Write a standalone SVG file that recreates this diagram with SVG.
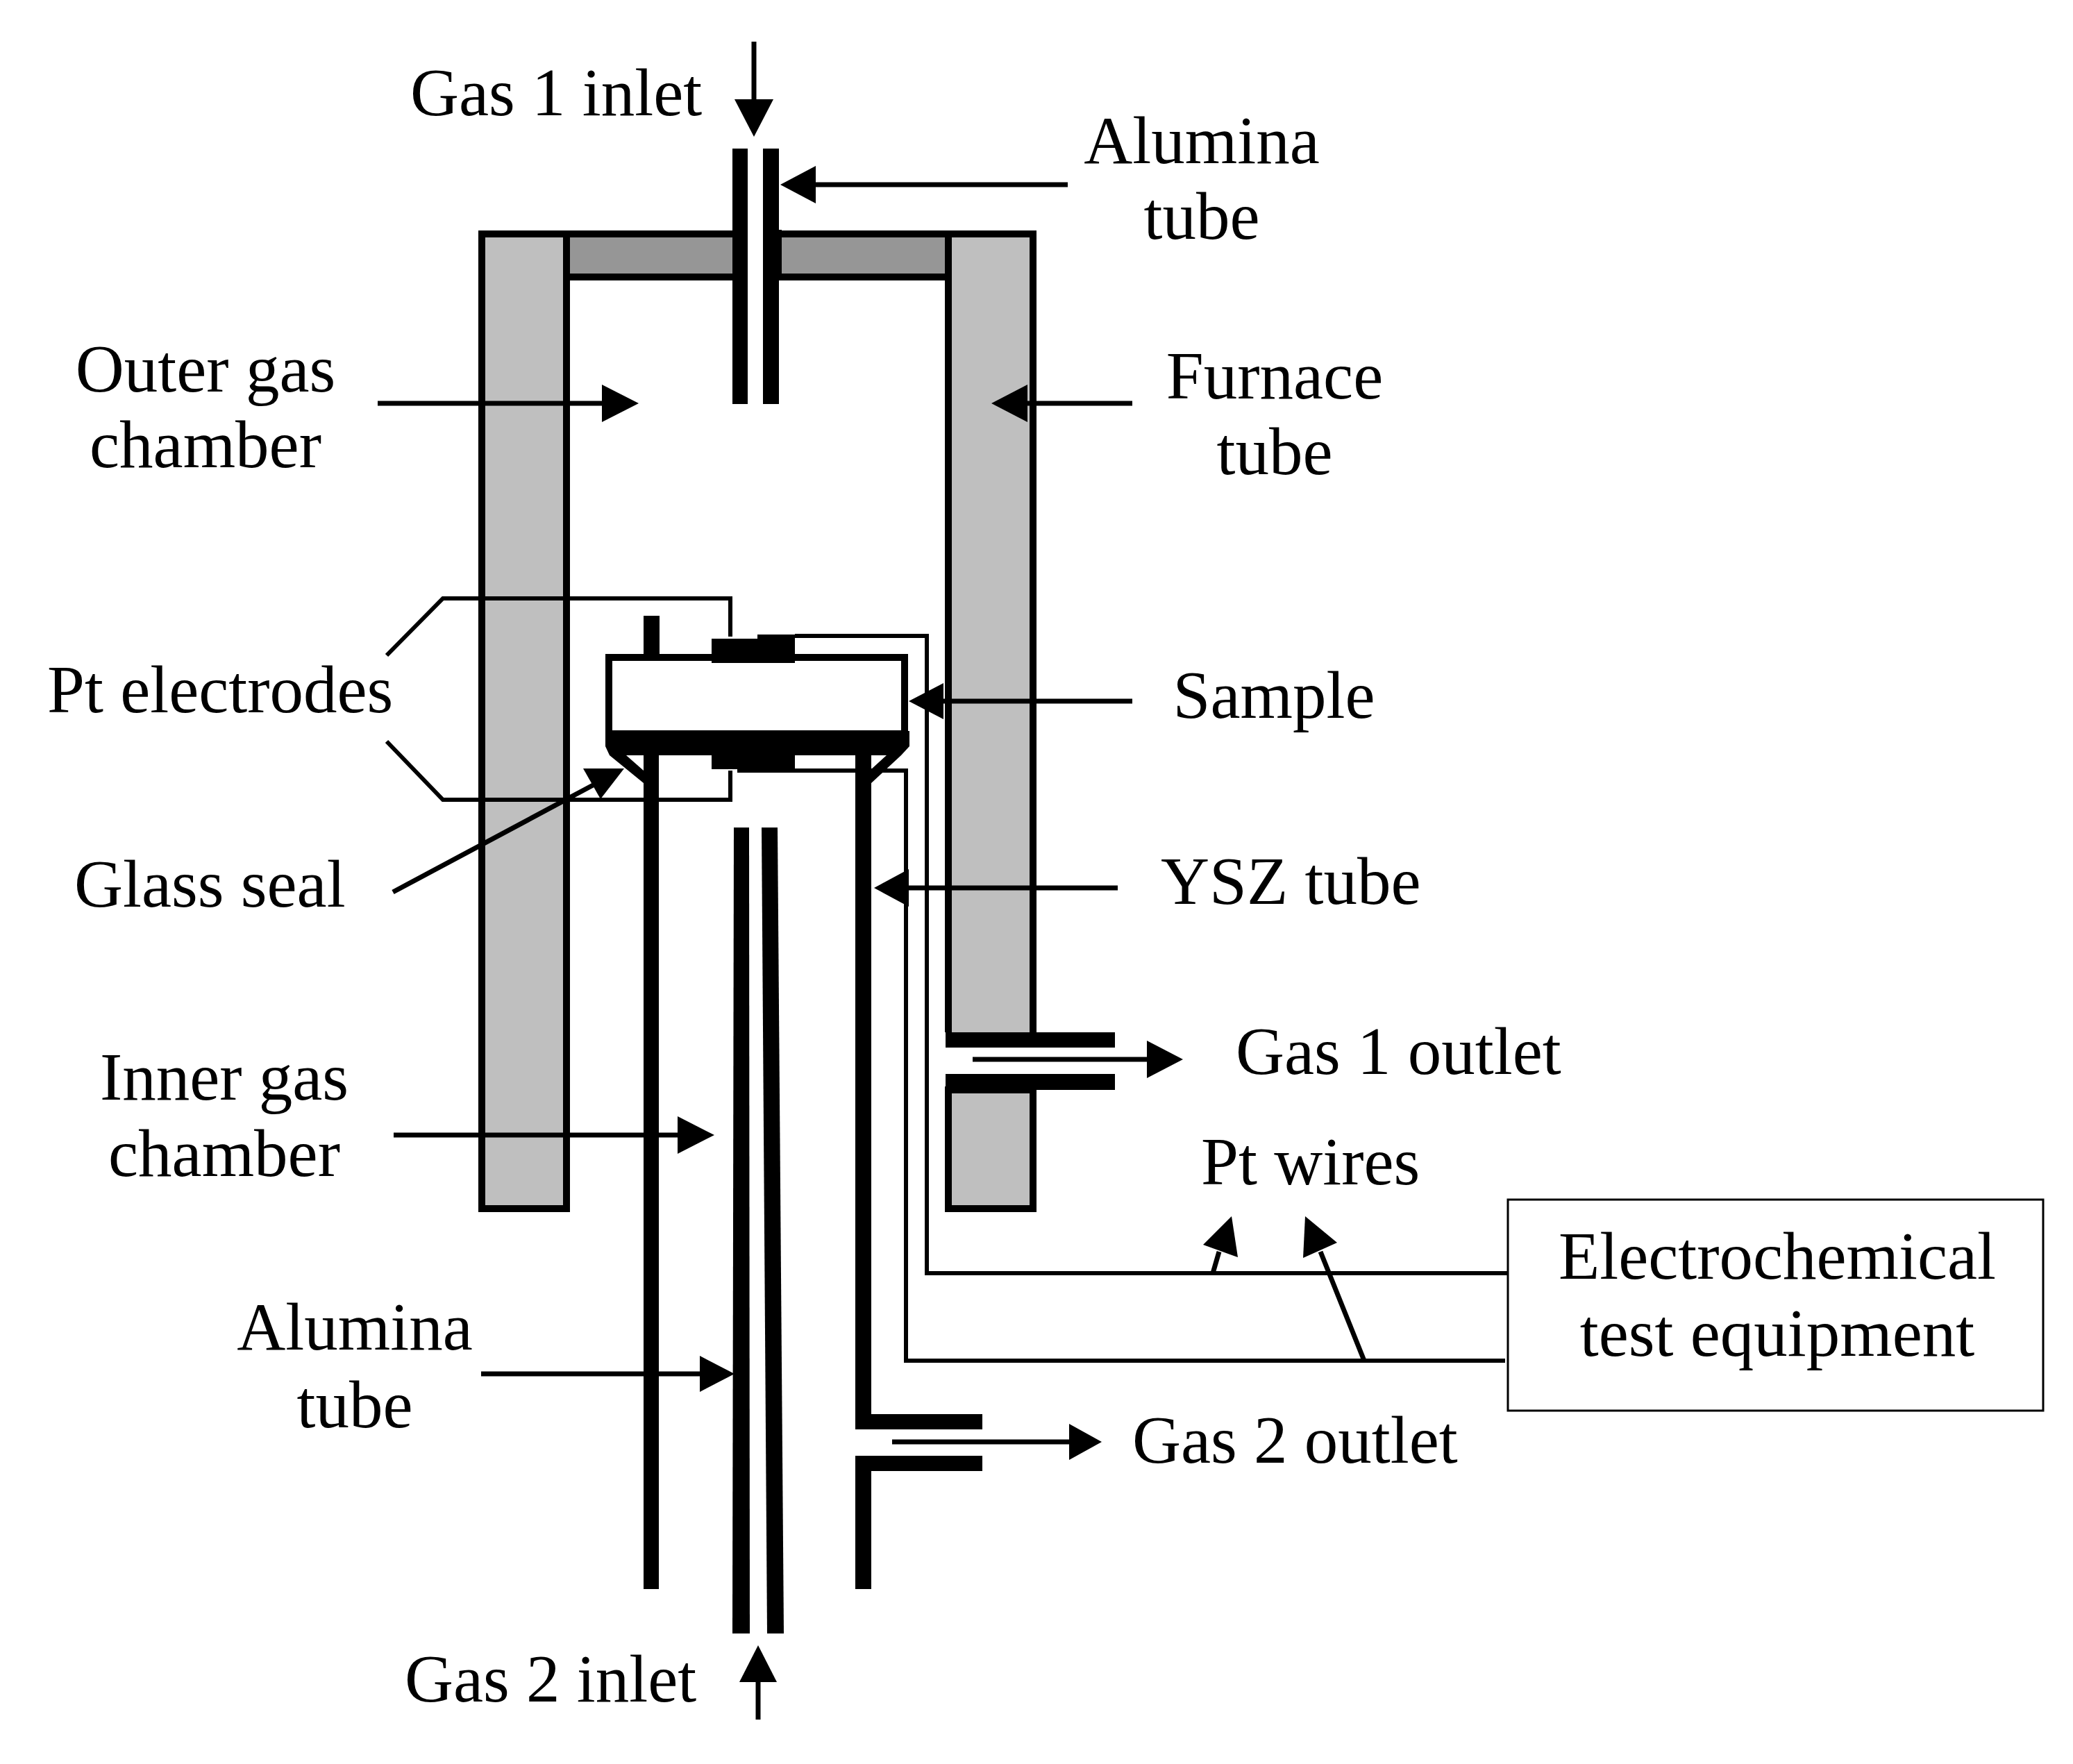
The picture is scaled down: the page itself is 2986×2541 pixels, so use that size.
<svg xmlns="http://www.w3.org/2000/svg" width="2986" height="2541" viewBox="0 0 2986 2541">
<style>
text{font-family:"Liberation Serif","Times New Roman",serif;font-size:97px;fill:#000}
.m{text-anchor:middle}
.wall{fill:#bfbfbf;stroke:#000;stroke-width:10}
.lid{fill:#969696;stroke:#000;stroke-width:10}
.blk{fill:#000}
.ln{fill:none;stroke:#000;stroke-width:6}
.ar{fill:none;stroke:#000;stroke-width:7}
</style>
<rect width="2986" height="2541" fill="#fff"/>
<g id="furnace">
<rect class="lid" x="816" y="337" width="551" height="62"/>
<rect class="wall" x="694" y="337" width="122" height="1404"/>
<path class="wall" d="M1366 1487V337H1488V1487"/>
<path class="wall" d="M1366 1570H1488V1741H1366Z"/>
<rect class="blk" x="1362" y="1487" width="244" height="22"/>
<rect class="blk" x="1362" y="1547" width="244" height="23"/>
</g>
<g id="gas1-tube">
<rect x="1077" y="330" width="22" height="76" fill="#fff"/>
<rect class="blk" x="1055" y="214" width="22" height="368"/>
<rect class="blk" x="1099" y="214" width="23" height="368"/>
<rect class="blk" x="1122" y="331" width="4" height="73"/>
</g>
<g id="sample">
<rect x="877" y="947" width="426" height="110" fill="#fff" stroke="#000" stroke-width="10"/>
<path class="blk" d="M872 1053H1310V1075L1298 1088H878L872 1075Z"/>
<path class="blk" d="M878 1088H902L927 1110V1128Z"/>
<path class="blk" d="M1298 1088H1277L1255 1108V1128Z"/>
<rect class="blk" x="927" y="887" width="23" height="56"/>
</g>
<g id="electrodes">
<rect class="blk" x="1025" y="920" width="120" height="35"/>
<rect class="blk" x="1091" y="914" width="54" height="41"/>
<rect class="blk" x="1025" y="1087" width="120" height="21"/>
<rect class="blk" x="1062" y="1087" width="83" height="26"/>
</g>
<g id="ysz-tube">
<rect class="blk" x="927" y="1087" width="22" height="1202"/>
<path class="blk" d="M1232 1087H1255V2037H1415V2059H1232Z"/>
<path class="blk" d="M1232 2289V2097H1415V2119H1255V2289Z"/>
</g>
<g id="gas2-tube">
<path class="blk" d="M1057 1192H1079L1080 2353H1055Z"/>
<path class="blk" d="M1097 1192H1120L1129 2353H1105Z"/>
</g>
<g id="equipment">
<rect x="2172" y="1728" width="771" height="304" fill="#fff" stroke="#000" stroke-width="3"/>
<text class="m" x="2560" y="1842">Electrochemical</text>
<text class="m" x="2560" y="1953">test equipment</text>
</g>
<g id="labels">
<text x="591" y="166">Gas 1 inlet</text>
<text class="m" x="1731" y="235">Alumina</text>
<text class="m" x="1731" y="344">tube</text>
<text class="m" x="296" y="564">Outer gas</text>
<text class="m" x="296" y="673">chamber</text>
<text class="m" x="1836" y="574">Furnace</text>
<text class="m" x="1836" y="683">tube</text>
<text x="68" y="1026">Pt electrodes</text>
<text class="m" x="1835" y="1034">Sample</text>
<text x="107" y="1306">Glass seal</text>
<text x="1672" y="1302">YSZ tube</text>
<text x="1780" y="1547">Gas 1 outlet</text>
<text x="1730" y="1706">Pt wires</text>
<text class="m" x="323" y="1584">Inner gas</text>
<text class="m" x="323" y="1694">chamber</text>
<text class="m" x="511" y="1944">Alumina</text>
<text class="m" x="511" y="2056">tube</text>
<text x="1631" y="2107">Gas 2 outlet</text>
<text x="583" y="2451">Gas 2 inlet</text>
</g>
<g id="connectors">
<path class="ln" d="M557 944L638 862H1052V917"/>
<path class="ln" d="M557 1068L638 1152H1052V1110"/>
<path class="ln" d="M1145 916H1335V1834H2172"/>
<path class="ln" d="M1145 1110H1305V1960H2168"/>
<path class="ar" d="M1086 60V143"/><path class="blk" d="M1058 143H1114L1086 197Z"/>
<path class="ar" d="M1538 266H1175"/><path class="blk" d="M1175 239V293L1124 266Z"/>
<path class="ar" d="M544 581H867"/><path class="blk" d="M867 554V608L920 581Z"/>
<path class="ar" d="M1631 581H1480"/><path class="blk" d="M1480 554V608L1428 581Z"/>
<path class="ar" d="M1631 1010H1359"/><path class="blk" d="M1359 984V1036L1309 1010Z"/>
<path class="ar" d="M566 1285L856 1130"/><path class="blk" d="M840 1107H899L865 1151Z"/>
<path class="ar" d="M1610 1279H1309"/><path class="blk" d="M1309 1252V1306L1259 1279Z"/>
<path class="ar" d="M1401 1526H1652"/><path class="blk" d="M1652 1499V1553L1704 1526Z"/>
<path class="ar" d="M567 1635H976"/><path class="blk" d="M976 1608V1662L1029 1635Z"/>
<path class="ar" d="M1747 1834L1756 1803"/><path class="blk" d="M1733 1793L1783 1811L1774 1752Z"/>
<path class="ar" d="M1965 1960L1902 1803"/><path class="blk" d="M1877 1812L1926 1790L1880 1752Z"/>
<path class="ar" d="M693 1979H1008"/><path class="blk" d="M1008 1953V2005L1058 1979Z"/>
<path class="ar" d="M1285 2077H1540"/><path class="blk" d="M1540 2051V2103L1587 2077Z"/>
<path class="ar" d="M1092 2477V2423"/><path class="blk" d="M1065 2423H1119L1092 2370Z"/>
</g>
</svg>
